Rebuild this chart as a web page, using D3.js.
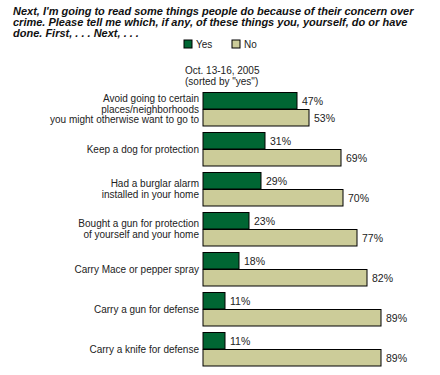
<!DOCTYPE html>
<html><head><meta charset="utf-8">
<script src="https://cdn.jsdelivr.net/npm/d3@7"></script>
<style>body{margin:0;background:#fff}svg{display:block}</style>
</head><body>
<svg id="c" width="440" height="375"></svg>
<script>
const titleLines = [
  "Next, I'm going to read some things people do because of their concern over",
  "crime. Please tell me which, if any, of these things you, yourself, do or have",
  "done. First, . . . Next, . . ."
];
const categories = [
  ["Avoid going to certain", "places/neighborhoods", "you might otherwise want to go to"],
  ["Keep a dog for protection"],
  ["Had a burglar alarm", "installed in your home"],
  ["Bought a gun for protection", "of yourself and your home"],
  ["Carry Mace or pepper spray"],
  ["Carry a gun for defense"],
  ["Carry a knife for defense"]
];
const series = ["Yes", "No"];
const yesValues = [47, 31, 29, 23, 18, 11, 11];
const noValues = [53, 69, 70, 77, 82, 89, 89];
const subtitle = ["Oct. 13-16, 2005", "(sorted by \"yes\")"];
const colors = {Yes: "#006633", No: "#CCCC99"};

const svg = d3.select("#c");
const font = "Arial, 'Liberation Sans', sans-serif";

// title
svg.append("g").selectAll("text").data(titleLines).join("text")
  .attr("x", 13).attr("y", (d, i) => 15 + i * 10.8)
  .attr("font-family", font).attr("font-size", 11)
  .attr("font-weight", "bold").attr("font-style", "italic")
  .attr("fill", "#111").text(d => d);

// legend
const legendX = {Yes: 184, No: 232};
const lg = svg.append("g").selectAll("g").data(series).join("g")
  .attr("transform", d => `translate(${legendX[d]},40)`);
lg.append("rect").attr("width", 8).attr("height", 8)
  .attr("fill", d => colors[d]).attr("stroke", "#000").attr("stroke-width", 1);
lg.append("text").attr("x", 12).attr("y", 8)
  .attr("font-family", font).attr("font-size", 10).attr("fill", "#222").text(d => d);

// subtitle
svg.append("g").selectAll("text").data(subtitle).join("text")
  .attr("x", 185).attr("y", (d, i) => 74 + i * 11)
  .attr("font-family", font).attr("font-size", 10).attr("fill", "#222").text(d => d);

const x = d3.scaleLinear().domain([0, 100]).range([203, 403]);
const idx = d3.range(categories.length);
const y = d3.scaleBand().domain(idx).range([92, 366]).paddingInner(0.15).paddingOuter(0);
const ys = d3.scaleBand().domain(series).range([0, y.bandwidth()]);

const data = idx.map(i => ({i, Yes: yesValues[i], No: noValues[i]}));
const groups = svg.append("g").selectAll("g").data(data).join("g")
  .attr("transform", d => `translate(0,${y(d.i)})`);

groups.selectAll("rect").data(d => series.map(s => ({s, v: d[s]}))).join("rect")
  .attr("x", x(0)).attr("y", d => ys(d.s) + 0.5)
  .attr("width", d => x(d.v) - x(0)).attr("height", ys.bandwidth() - 0.5)
  .attr("fill", d => colors[d.s]).attr("stroke", "#000").attr("stroke-width", 1);

groups.selectAll("text.v").data(d => series.map(s => ({s, v: d[s]}))).join("text")
  .attr("class", "v")
  .attr("x", d => x(d.v) + 5).attr("y", d => ys(d.s) + ys.bandwidth() / 2 + 4)
  .attr("font-family", font).attr("font-size", 10.5).attr("fill", "#222")
  .text(d => d.v + "%");

groups.each(function(d) {
  const lines = categories[d.i];
  const g = d3.select(this);
  const c = y.bandwidth() / 2;
  g.selectAll("text.l").data(lines).join("text").attr("class", "l")
    .attr("x", 199).attr("text-anchor", "end")
    .attr("y", (t, k) => c + (k - (lines.length - 1) / 2) * 10.5 + 3.5)
    .attr("font-family", font).attr("font-size", 10).attr("fill", "#222")
    .text(t => t);
});
</script>
</body></html>
